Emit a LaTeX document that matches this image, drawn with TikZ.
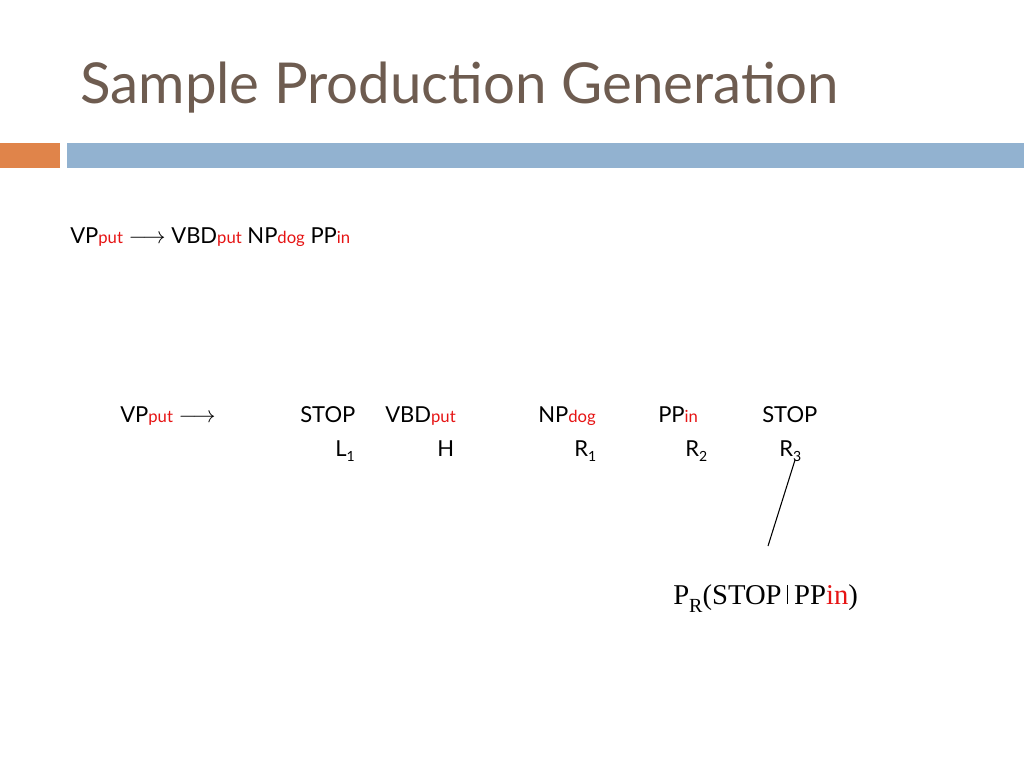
\documentclass[tikz,border=0pt]{standalone}
\usepackage{fontspec}
\setmainfont{Lato}
\newfontfamily\timesf{Liberation Serif}
\definecolor{titlec}{RGB}{110,92,80}
\definecolor{orangec}{RGB}{224,132,74}
\definecolor{bluec}{RGB}{146,178,208}
\definecolor{redc}{RGB}{230,20,20}
\newcommand{\sub}[1]{{\fontsize{12.5}{14}\selectfont\color{redc}#1}}
\newcommand{\ix}[1]{\raisebox{-0.25em}{\fontsize{10.5}{12}\selectfont #1}}
\begin{document}
\begin{tikzpicture}[x=0.75pt,y=-0.75pt,
  txt/.style={anchor=base west,inner sep=0pt,font=\fontsize{16.5}{19}\selectfont}]
\useasboundingbox (0,0) rectangle (1024,768);
\fill[white] (0,0) rectangle (1024,768);
\node[anchor=base west,inner sep=0pt,text=titlec,font=\fontsize{42.3}{48}\selectfont] (title) at (80,103) {Sample Production Generation};
\fill[orangec] (0,143) rectangle (60,168);
\fill[bluec] (67,143) rectangle (1024,168);
\node[txt] (rule) at (70,243) {VP\sub{put} $\longrightarrow$ VBD\sub{put} NP\sub{dog} PP\sub{in}};
\node[txt] (lhs) at (120,422) {VP\sub{put} $\longrightarrow$};
\node[txt] (stopl) at (300,422) {STOP};
\node[txt] (vbd) at (385,422) {VBD\sub{put}};
\node[txt] (np) at (538,422) {NP\sub{dog}};
\node[txt] (pp) at (658,422) {PP\sub{in}};
\node[txt] (stopr) at (762,422) {STOP};
\node[txt] (l1) at (335,456) {L\ix{1}};
\node[txt] (h) at (437,456) {H};
\node[txt] (r1) at (574,456) {R\ix{1}};
\node[txt] (r2) at (685,456) {R\ix{2}};
\node[txt] (r3) at (779,456) {R\ix{3}};
\node[anchor=base west,inner sep=0pt,font=\timesf\fontsize{21.5}{25}\selectfont] (prob) at (673,604) {P\raisebox{-0.3em}{\fontsize{15}{17}\selectfont R}(STOP\hspace{0.2em}\rule[0pt]{0.8pt}{0.66em}\hspace{0.2em}PP{\color{redc}in})};
\coordinate (a) at (795,460);
\coordinate (b) at (768,546);
\draw[line width=0.8pt] (a) -- (b);
\end{tikzpicture}
\end{document}
